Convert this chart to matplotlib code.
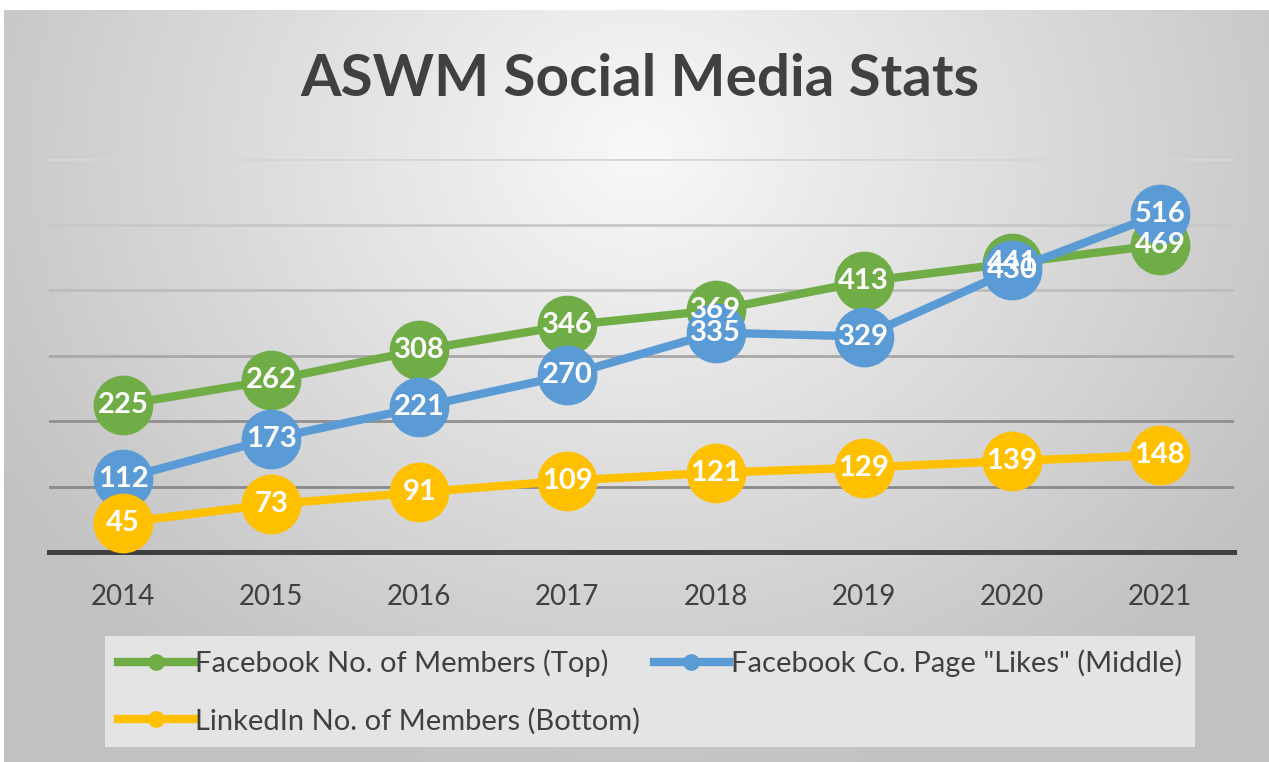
import matplotlib.pyplot as plt
import numpy as np
from matplotlib.lines import Line2D

# datos
years = ['2014', '2015', '2016', '2017', '2018', '2019', '2020', '2021']
fb_members = [225, 262, 308, 346, 369, 413, 441, 469]
fb_likes = [112, 173, 221, 270, 335, 329, 430, 516]
li_members = [45, 73, 91, 109, 121, 129, 139, 148]

names = ['Facebook No. of Members (Top)',
         'Facebook Co. Page "Likes" (Middle)',
         'LinkedIn No. of Members (Bottom)']
colors = ['#70ad47', '#5b9bd5', '#ffc000']

plt.rcParams['font.family'] = ['Lato', 'DejaVu Sans']

W, H = 1269, 762
fig = plt.figure(figsize=(W / 100, H / 100), dpi=100)

# fondo con degradado radial
bg = fig.add_axes([0, 0, 1, 1], zorder=-10)
yy, xx = np.mgrid[0:H, 0:W]
r = np.sqrt(((xx - 640) / 800.0) ** 2 + ((yy - 150) / 700.0) ** 2)
shade = np.clip(0.975 - 0.23 * r, 0.76, 1.0)
img = np.dstack([shade, shade, shade])
img[:10, :, :] = 1.0
img[:, :4, :] = 1.0
bg.imshow(img, aspect='auto', interpolation='bilinear')
bg.axis('off')

ax = fig.add_axes([49 / W, 1 - 552 / H, (1234 - 49) / W, (552 - 159) / H])
ax.patch.set_alpha(0)

x = np.arange(len(years))

# cuadrícula con tonos distintos
grid_vals = [100, 200, 300, 400, 500, 600]
grid_cols = ['#8a8a8a', '#8f8f8f', '#a8a8a8', '#bdbdbd', '#c8c8c8', '#d6d6d6']
for v, c in zip(grid_vals, grid_cols):
    ax.axhline(v, color=c, lw=2, zorder=1)
ax.axhline(0, color='#404040', lw=3.6, zorder=2, clip_on=False)

series = [fb_members, fb_likes, li_members]
for s, c in zip(series, colors):
    ax.plot(x, s, color=c, lw=6, marker='o', markersize=42, zorder=3, clip_on=False)

for s in series:
    for xi, v in zip(x, s):
        ax.text(xi, v, str(v), color='white', fontsize=21, fontweight='bold',
                ha='center', va='center', zorder=5)

ax.set_xlim(-0.5, len(years) - 0.5)
ax.set_ylim(0, 600)
ax.set_xticks(x)
ax.set_xticklabels(years)
ax.set_yticks([])
ax.tick_params(axis='x', length=0, pad=23, labelsize=20, labelcolor='#404040')
for sp in ax.spines.values():
    sp.set_visible(False)

fig.text(0.5 + 5 / W, 1 - 80 / H, 'ASWM Social Media Stats', ha='center', va='center',
         fontsize=42, fontweight='bold', color='#404040')

handles = [Line2D([], [], color=c, lw=6, marker='o', markersize=11) for c in colors]
order = [0, 2, 1]
leg = fig.legend([handles[i] for i in order], [names[i] for i in order],
                 loc='upper left', bbox_to_anchor=(105 / W, 1 - 636 / H),
                 ncol=2, frameon=True, facecolor='#e4e4e4', edgecolor='none',
                 framealpha=1, fancybox=False, fontsize=21, handlelength=2.6,
                 handletextpad=0.05, columnspacing=0.45, labelspacing=1.05,
                 borderpad=0.45, borderaxespad=0)
for t in leg.get_texts():
    t.set_color('#404040')

fig.savefig('out.png', dpi=100)
